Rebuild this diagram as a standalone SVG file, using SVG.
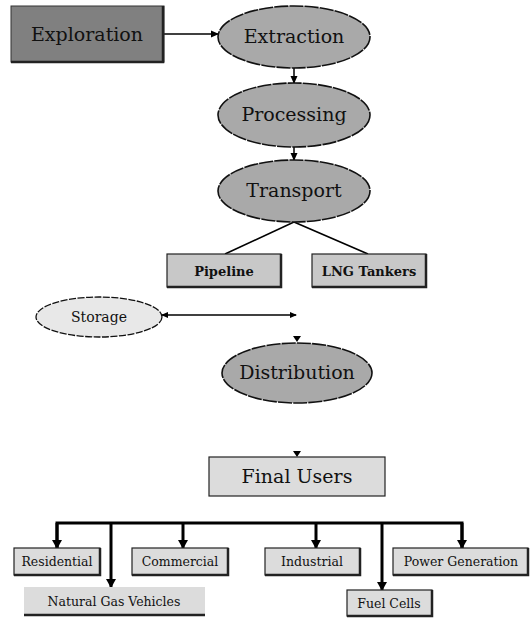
<svg xmlns="http://www.w3.org/2000/svg" width="530" height="618" viewBox="0 0 530 618" font-family="'DejaVu Serif', 'Liberation Serif', serif">
<style>
text{font-family:'DejaVu Serif','Liberation Serif',serif;fill:#111;text-anchor:middle}
.big{font-size:19px}
.mid{font-size:13px;font-weight:bold}
.sm{font-size:12.5px}
.ell{fill:#a9a9a9;stroke:#111;stroke-width:1.6;stroke-dasharray:14 1.2}
.box{stroke:#222;stroke-width:1.2}
.c{stroke:#000;fill:none;stroke-width:1.5}
.t{stroke:#000;fill:none;stroke-width:3}
.sh{stroke:#222;stroke-width:2.5;fill:none}
</style>
<defs>
<marker id="ah" markerWidth="8" markerHeight="8" refX="7" refY="4" orient="auto" markerUnits="userSpaceOnUse"><path d="M0,0.5 L8,4 L0,7.5z" fill="#000"/></marker>
<marker id="ahs" markerWidth="7" markerHeight="7" refX="6" refY="3.5" orient="auto-start-reverse" markerUnits="userSpaceOnUse"><path d="M0,0.5 L7,3.5 L0,6.5z" fill="#000"/></marker>
<marker id="ahb" markerWidth="10" markerHeight="10" refX="8" refY="5" orient="auto" markerUnits="userSpaceOnUse"><path d="M0,0 L9,5 L0,10z" fill="#000"/></marker>
</defs>
<g id="connectors">
<line class="c" x1="164" y1="34" x2="218" y2="34" marker-end="url(#ah)"/>
<line class="c" x1="294" y1="68" x2="294" y2="83" marker-end="url(#ah)"/>
<line class="c" x1="294" y1="147" x2="294" y2="160" marker-end="url(#ah)"/>
<line class="c" x1="294" y1="222" x2="225" y2="254"/>
<line class="c" x1="294" y1="222" x2="368" y2="254"/>
<line class="c" x1="162" y1="315" x2="296" y2="315" marker-start="url(#ahs)" marker-end="url(#ahs)"/>
<path d="M293,336 L301,336 L297,342z" fill="#000"/>
<path d="M293,451 L301,451 L297,457z" fill="#000"/>
<polyline class="t" points="57,548 57,523 462,523 462,548"/>
<line class="t" x1="57" y1="523" x2="57" y2="548" marker-end="url(#ahb)"/>
<line class="t" x1="111" y1="523" x2="111" y2="587" marker-end="url(#ahb)"/>
<line class="t" x1="183" y1="523" x2="183" y2="548" marker-end="url(#ahb)"/>
<line class="t" x1="316" y1="523" x2="316" y2="548" marker-end="url(#ahb)"/>
<line class="t" x1="382" y1="523" x2="382" y2="590" marker-end="url(#ahb)"/>
<line class="t" x1="462" y1="523" x2="462" y2="548" marker-end="url(#ahb)"/>
</g>
<g id="exploration">
<rect x="11" y="6" width="153" height="56" fill="#808080" stroke="#333" stroke-width="1"/>
<polyline class="sh" points="163,6 163,62 11,62"/>
<text class="big" x="87" y="41">Exploration</text>
</g>
<g id="extraction">
<ellipse class="ell" cx="294" cy="37" rx="76" ry="31"/>
<text class="big" x="294" y="43">Extraction</text>
</g>
<g id="processing">
<ellipse class="ell" cx="294" cy="115" rx="76" ry="32"/>
<text class="big" x="294" y="121">Processing</text>
</g>
<g id="transport">
<ellipse class="ell" cx="294" cy="191" rx="76" ry="31"/>
<text class="big" x="294" y="197">Transport</text>
</g>
<g id="pipeline">
<rect class="box" x="167" y="254" width="114" height="33" fill="#c8c8c8"/>
<polyline class="sh" points="281,254 281,287 167,287"/>
<text class="mid" x="224" y="276">Pipeline</text>
</g>
<g id="lng">
<rect class="box" x="312" y="254" width="114" height="33" fill="#c8c8c8"/>
<polyline class="sh" points="426,254 426,287 312,287"/>
<text class="mid" x="369" y="276">LNG Tankers</text>
</g>
<g id="storage">
<ellipse cx="99" cy="317" rx="63" ry="20" fill="#e8e8e8" stroke="#111" stroke-width="1.3" stroke-dasharray="7 1.5"/>
<text x="99" y="322" style="font-size:14px">Storage</text>
</g>
<g id="distribution">
<ellipse class="ell" cx="297" cy="373" rx="75" ry="30"/>
<text class="big" x="297" y="379">Distribution</text>
</g>
<g id="final-users">
<rect class="box" x="209" y="457" width="176" height="39" fill="#dcdcdc"/>
<text class="big" x="297" y="483">Final Users</text>
</g>
<g id="residential">
<rect class="box" x="14" y="548" width="86" height="27" fill="#dcdcdc"/>
<polyline class="sh" points="100,548 100,575 14,575"/>
<text class="sm" x="57" y="566">Residential</text>
</g>
<g id="commercial">
<rect class="box" x="132" y="548" width="96" height="27" fill="#dcdcdc"/>
<polyline class="sh" points="228,548 228,575 132,575"/>
<text class="sm" x="180" y="566">Commercial</text>
</g>
<g id="industrial">
<rect class="box" x="265" y="548" width="95" height="27" fill="#dcdcdc"/>
<polyline class="sh" points="360,548 360,575 265,575"/>
<text class="sm" x="312" y="566">Industrial</text>
</g>
<g id="power-generation">
<rect class="box" x="393" y="548" width="135" height="27" fill="#dcdcdc"/>
<polyline class="sh" points="528,548 528,575 393,575"/>
<text class="sm" x="461" y="566">Power Generation</text>
</g>
<g id="ngv">
<rect x="24" y="587" width="181" height="28" fill="#dcdcdc"/>
<line class="sh" x1="24" y1="615" x2="205" y2="615"/>
<text class="sm" x="114" y="606">Natural Gas Vehicles</text>
</g>
<g id="fuel-cells">
<rect class="box" x="347" y="590" width="85" height="26" fill="#dcdcdc"/>
<polyline class="sh" points="432,590 432,616 347,616"/>
<text class="sm" x="389" y="608">Fuel Cells</text>
</g>
</svg>
